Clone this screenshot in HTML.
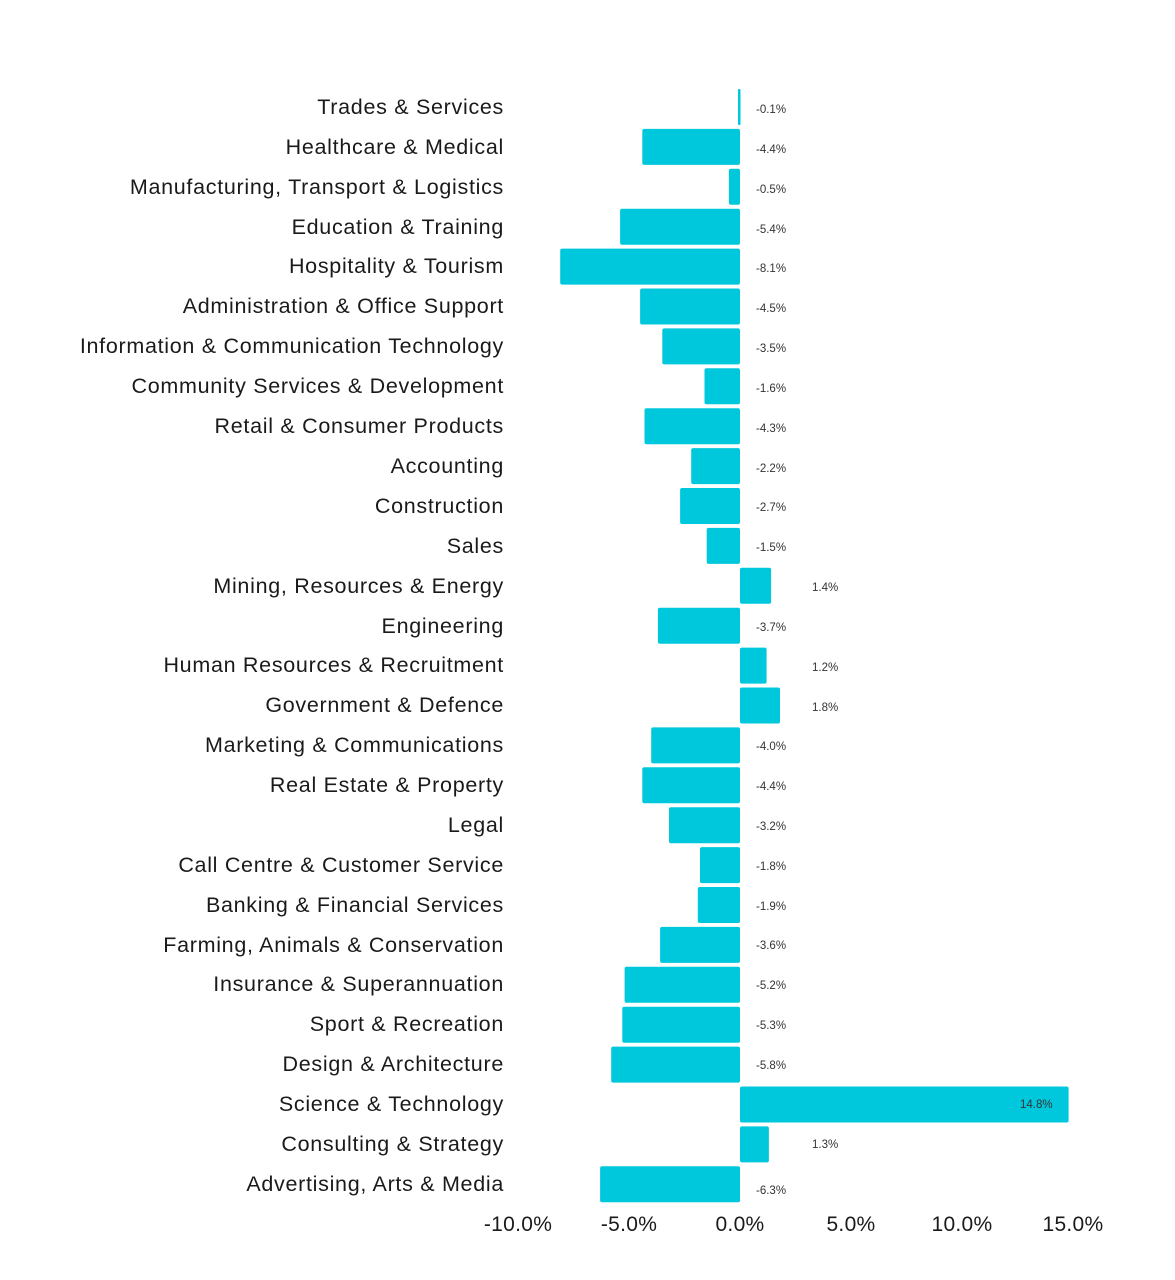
<!DOCTYPE html>
<html><head><meta charset="utf-8"><style>
html,body{margin:0;padding:0;background:#fff;}
svg{display:block;font-family:"Liberation Sans",sans-serif;}
.l{font-size:21.5px;fill:#1a1a1a;text-anchor:end;letter-spacing:0.7px;}
.v{font-size:11.5px;fill:#333;}
.t{font-size:21px;fill:#1a1a1a;text-anchor:middle;letter-spacing:0.3px;}
rect{fill:#00c8dc;}
</style></head><body>
<svg width="1175" height="1280" viewBox="0 0 1175 1280">
<g>
<rect x="738" y="89" width="2.5" height="36" rx="1"/>
<rect x="642.3" y="128.9" width="97.7" height="36" rx="2"/>
<rect x="728.9" y="168.8" width="11.1" height="36" rx="2"/>
<rect x="620.1" y="208.7" width="119.9" height="36" rx="2"/>
<rect x="560.2" y="248.6" width="179.8" height="36" rx="2"/>
<rect x="640.1" y="288.5" width="99.9" height="36" rx="2"/>
<rect x="662.3" y="328.4" width="77.7" height="36" rx="2"/>
<rect x="704.5" y="368.3" width="35.5" height="36" rx="2"/>
<rect x="644.5" y="408.2" width="95.5" height="36" rx="2"/>
<rect x="691.2" y="448.1" width="48.8" height="36" rx="2"/>
<rect x="680.1" y="488" width="59.9" height="36" rx="2"/>
<rect x="706.7" y="527.9" width="33.3" height="36" rx="2"/>
<rect x="740" y="567.8" width="31.1" height="36" rx="2"/>
<rect x="657.9" y="607.7" width="82.1" height="36" rx="2"/>
<rect x="740" y="647.6" width="26.6" height="36" rx="2"/>
<rect x="740" y="687.5" width="40" height="36" rx="2"/>
<rect x="651.2" y="727.4" width="88.8" height="36" rx="2"/>
<rect x="642.3" y="767.3" width="97.7" height="36" rx="2"/>
<rect x="669" y="807.2" width="71" height="36" rx="2"/>
<rect x="700" y="847.1" width="40" height="36" rx="2"/>
<rect x="697.8" y="887" width="42.2" height="36" rx="2"/>
<rect x="660.1" y="926.9" width="79.9" height="36" rx="2"/>
<rect x="624.6" y="966.8" width="115.4" height="36" rx="2"/>
<rect x="622.3" y="1006.7" width="117.7" height="36" rx="2"/>
<rect x="611.2" y="1046.6" width="128.8" height="36" rx="2"/>
<rect x="740" y="1086.5" width="328.6" height="36" rx="2"/>
<rect x="740" y="1126.4" width="28.9" height="36" rx="2"/>
<rect x="600.1" y="1166.3" width="139.9" height="36" rx="2"/>
</g>
<g>
<text class="l" x="504" y="114">Trades &amp; Services</text>
<text class="l" x="504" y="154">Healthcare &amp; Medical</text>
<text class="l" x="504" y="194">Manufacturing, Transport &amp; Logistics</text>
<text class="l" x="504" y="234">Education &amp; Training</text>
<text class="l" x="504" y="273">Hospitality &amp; Tourism</text>
<text class="l" x="504" y="313">Administration &amp; Office Support</text>
<text class="l" x="504" y="353">Information &amp; Communication Technology</text>
<text class="l" x="504" y="393">Community Services &amp; Development</text>
<text class="l" x="504" y="433">Retail &amp; Consumer Products</text>
<text class="l" x="504" y="473">Accounting</text>
<text class="l" x="504" y="513">Construction</text>
<text class="l" x="504" y="553">Sales</text>
<text class="l" x="504" y="593">Mining, Resources &amp; Energy</text>
<text class="l" x="504" y="633">Engineering</text>
<text class="l" x="504" y="672">Human Resources &amp; Recruitment</text>
<text class="l" x="504" y="712">Government &amp; Defence</text>
<text class="l" x="504" y="752">Marketing &amp; Communications</text>
<text class="l" x="504" y="792">Real Estate &amp; Property</text>
<text class="l" x="504" y="832">Legal</text>
<text class="l" x="504" y="872">Call Centre &amp; Customer Service</text>
<text class="l" x="504" y="912">Banking &amp; Financial Services</text>
<text class="l" x="504" y="952">Farming, Animals &amp; Conservation</text>
<text class="l" x="504" y="991">Insurance &amp; Superannuation</text>
<text class="l" x="504" y="1031">Sport &amp; Recreation</text>
<text class="l" x="504" y="1071">Design &amp; Architecture</text>
<text class="l" x="504" y="1111">Science &amp; Technology</text>
<text class="l" x="504" y="1151">Consulting &amp; Strategy</text>
<text class="l" x="504" y="1191">Advertising, Arts &amp; Media</text>
</g>
<g class="v">
<text class="v" x="756" y="113">-0.1%</text>
<text class="v" x="756" y="153">-4.4%</text>
<text class="v" x="756" y="193">-0.5%</text>
<text class="v" x="756" y="233">-5.4%</text>
<text class="v" x="756" y="272">-8.1%</text>
<text class="v" x="756" y="312">-4.5%</text>
<text class="v" x="756" y="352">-3.5%</text>
<text class="v" x="756" y="392">-1.6%</text>
<text class="v" x="756" y="432">-4.3%</text>
<text class="v" x="756" y="472">-2.2%</text>
<text class="v" x="756" y="511">-2.7%</text>
<text class="v" x="756" y="551">-1.5%</text>
<text class="v" x="812" y="591">1.4%</text>
<text class="v" x="756" y="631">-3.7%</text>
<text class="v" x="812" y="671">1.2%</text>
<text class="v" x="812" y="711">1.8%</text>
<text class="v" x="756" y="750">-4.0%</text>
<text class="v" x="756" y="790">-4.4%</text>
<text class="v" x="756" y="830">-3.2%</text>
<text class="v" x="756" y="870">-1.8%</text>
<text class="v" x="756" y="910">-1.9%</text>
<text class="v" x="756" y="949">-3.6%</text>
<text class="v" x="756" y="989">-5.2%</text>
<text class="v" x="756" y="1029">-5.3%</text>
<text class="v" x="756" y="1069">-5.8%</text>
<text class="v" x="1020" y="1108">14.8%</text>
<text class="v" x="812" y="1148">1.3%</text>
<text class="v" x="756" y="1194">-6.3%</text>
</g>
<g>
<text class="t" x="518" y="1231">-10.0%</text>
<text class="t" x="629" y="1231">-5.0%</text>
<text class="t" x="740" y="1231">0.0%</text>
<text class="t" x="851" y="1231">5.0%</text>
<text class="t" x="962" y="1231">10.0%</text>
<text class="t" x="1073" y="1231">15.0%</text>
</g>
</svg>
</body></html>
